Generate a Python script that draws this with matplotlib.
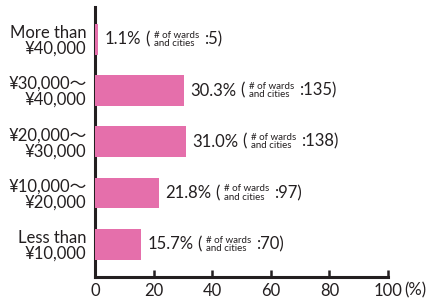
import matplotlib
matplotlib.use("Agg")
import matplotlib.pyplot as plt

categories = ["More than\n¥40,000", "¥30,000～\n¥40,000", "¥20,000～\n¥30,000",
              "¥10,000～\n¥20,000", "Less than\n¥10,000"]
shares = [1.1, 30.3, 31.0, 21.8, 15.7]
counts = [5, 135, 138, 97, 70]
xticks = [0, 20, 40, 60, 80, 100]

FAM = ["Lato", "Noto Sans CJK JP", "DejaVu Sans"]
plt.rcParams['font.family'] = FAM
INK = "#231f20"
BAR = "#e56fab"

fig = plt.figure(figsize=(4.31, 3.01), dpi=100)
W, H = 431, 301
ax = fig.add_axes([95 / W, (301 - 277) / H, (388 - 95) / W, (277 - 7) / H])

y = list(range(len(categories)))
ax.barh(y, shares, height=0.6, color=BAR, zorder=3)
ax.set_ylim(len(categories) - 1 + 0.64, -0.63)
ax.set_xlim(0, 100)

ax.set_yticks(y)
ax.set_yticklabels(categories, fontsize=12, color=INK, linespacing=1.0)
ax.tick_params(axis='y', length=0, pad=6)
ax.set_xticks(xticks)
ax.set_xticklabels([str(t) for t in xticks], fontsize=12, color=INK)
ax.tick_params(axis='x', direction='in', length=5, width=1.8, color=INK, pad=4)

for s in ['top', 'right']:
    ax.spines[s].set_visible(False)
for s in ['left', 'bottom']:
    ax.spines[s].set_linewidth(2.2)
    ax.spines[s].set_color(INK)
    ax.spines[s].set_zorder(2.5)

ax.annotate("(%)", xy=(100, 0), xycoords=('data', 'axes fraction'),
            xytext=(11.5, -4), textcoords='offset points', fontsize=12, color=INK,
            ha='left', va='top', annotation_clip=False)

for yi, v, c in zip(y, shares, counts):
    t1 = ax.annotate(f"{v:.1f}%", xy=(v, yi), xytext=(4.5, 0), textcoords='offset points',
                     ha='left', va='center', fontsize=12, color=INK)
    t2 = ax.annotate("(", xy=(1, 0.5), xycoords=t1, xytext=(3, 0), textcoords='offset points',
                     ha='left', va='center', fontsize=12, color=INK)
    t3 = ax.annotate("# of wards\nand cities", xy=(1, 0.5), xycoords=t2, xytext=(3, 0),
                     textcoords='offset points', ha='left', va='center', fontsize=7,
                     color=INK, linespacing=0.9, multialignment='left')
    ax.annotate(f":{c})", xy=(1, 0.5), xycoords=t3, xytext=(4, 0),
                textcoords='offset points', ha='left', va='center', fontsize=12, color=INK)

fig.savefig("out.png", dpi=100)
